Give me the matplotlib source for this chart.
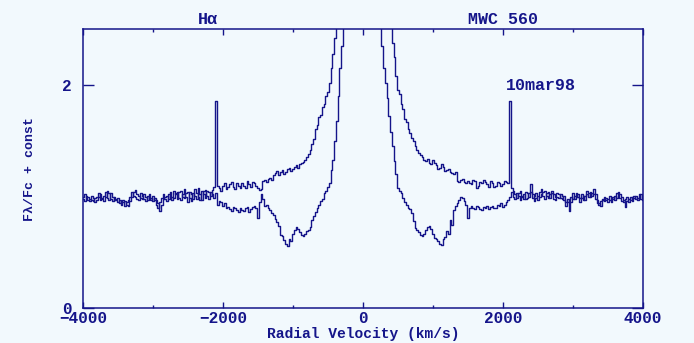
import numpy as np
import matplotlib
matplotlib.use("Agg")
import matplotlib.pyplot as plt

# velocity grid (km/s), one sample every 25 km/s
vel = np.arange(-4000, 4001, 25)

# spectrum with broad emission wings (10 samples per row = 250 km/s)
flux_wings = [
    1.00, 1.02, 0.99, 0.97, 0.96, 1.01, 0.99, 0.95, 0.97, 1.00,  # -4000
    1.02, 0.98, 0.96, 1.00, 1.05, 1.03, 0.98, 0.96, 1.00, 0.97,  # -3750
    0.95, 0.97, 0.93, 0.95, 0.96, 0.93, 0.92, 0.96, 1.00, 1.04,  # -3500
    1.06, 1.02, 1.01, 0.99, 0.98, 1.02, 1.00, 0.97, 1.02, 0.99,  # -3250
    0.96, 0.99, 0.97, 0.94, 0.87, 0.93, 0.98, 1.00, 1.01, 0.98,  # -3000
    1.04, 1.00, 0.99, 1.03, 1.04, 0.99, 0.97, 1.02, 1.07, 1.00,  # -2750
    0.95, 1.04, 1.02, 0.98, 1.07, 1.03, 1.00, 0.97, 1.05, 1.02,  # -2500
    0.99, 1.05, 1.04, 1.01, 1.06, 1.09, 1.86, 1.10, 1.08, 1.05,  # -2250
    1.10, 1.12, 1.07, 1.09, 1.11, 1.13, 1.09, 1.07, 1.12, 1.10,  # -2000
    1.08, 1.12, 1.10, 1.08, 1.14, 1.11, 1.09, 1.13, 1.12, 1.10,  # -1750
    1.08, 1.06, 1.07, 1.14, 1.15, 1.13, 1.16, 1.17, 1.15, 1.19,  # -1500
    1.21, 1.23, 1.19, 1.22, 1.24, 1.20, 1.22, 1.25, 1.26, 1.23,  # -1250
    1.25, 1.27, 1.28, 1.26, 1.29, 1.30, 1.31, 1.33, 1.36, 1.38,  # -1000
    1.42, 1.47, 1.52, 1.61, 1.64, 1.71, 1.73, 1.80, 1.83, 1.90,  # -750
    1.94, 2.02, 2.15, 2.28, 2.42, 2.62, 2.90, 3.15, 3.40, 3.70,  # -500
    4.00, 4.40, 4.80, 5.20, 5.50, 5.80, 6.00, 6.20, 6.30, 6.35,  # -250
    6.40, 6.30, 6.20, 5.90, 5.60, 5.30, 4.90, 4.50, 4.20, 3.90,  # 0
    3.60, 3.35, 3.10, 2.95, 2.80, 2.66, 2.52, 2.38, 2.25, 2.08,  # 250
    1.96, 1.92, 1.83, 1.79, 1.70, 1.67, 1.61, 1.57, 1.53, 1.50,  # 500
    1.45, 1.42, 1.39, 1.37, 1.36, 1.33, 1.32, 1.34, 1.30, 1.29,  # 750
    1.33, 1.30, 1.28, 1.25, 1.26, 1.29, 1.27, 1.23, 1.24, 1.25,  # 1000
    1.22, 1.21, 1.20, 1.22, 1.14, 1.13, 1.15, 1.16, 1.13, 1.12,  # 1250
    1.14, 1.12, 1.11, 1.15, 1.14, 1.08, 1.10, 1.13, 1.12, 1.15,  # 1500
    1.13, 1.11, 1.09, 1.14, 1.12, 1.09, 1.10, 1.13, 1.12, 1.10,  # 1750
    1.11, 1.14, 1.13, 1.12, 1.86, 1.08, 1.05, 1.02, 0.99, 1.03,  # 2000
    1.05, 1.01, 0.98, 1.04, 1.03, 1.00, 1.11, 1.02, 0.96, 0.99,  # 2250
    1.01, 1.04, 1.07, 1.01, 0.98, 1.03, 1.04, 0.99, 1.05, 1.02,  # 2500
    1.00, 1.03, 1.02, 0.99, 0.98, 1.01, 0.95, 0.98, 0.87, 0.95,  # 2750
    1.03, 0.98, 1.00, 1.02, 0.95, 0.99, 1.01, 0.97, 1.02, 1.00,  # 3000
    1.04, 1.01, 1.07, 1.02, 0.97, 0.94, 0.92, 0.97, 0.96, 0.99,  # 3250
    0.98, 1.01, 0.95, 0.98, 1.01, 0.99, 1.04, 1.02, 1.00, 0.97,  # 3500
    0.91, 0.96, 0.98, 1.00, 0.96, 0.99, 1.01, 0.97, 0.99, 1.02,  # 3750
    0.99,                                                        # 4000
]

# spectrum with absorption troughs
flux_troughs = [
    0.98, 0.96, 1.01, 1.00, 0.98, 0.97, 0.96, 0.99, 1.00, 1.03,  # -4000
    0.97, 0.99, 1.01, 1.04, 0.99, 0.97, 1.03, 1.00, 0.97, 0.98,  # -3750
    0.99, 0.94, 0.96, 0.97, 0.92, 0.95, 0.97, 1.00, 1.04, 1.01,  # -3500
    1.00, 0.98, 0.97, 1.03, 1.01, 0.98, 0.96, 1.01, 0.99, 0.97,  # -3250
    1.01, 0.97, 0.93, 0.90, 0.95, 0.99, 1.02, 0.98, 0.96, 1.02,  # -3000
    1.00, 0.97, 1.05, 1.02, 0.98, 1.04, 1.05, 1.00, 0.99, 1.03,  # -2750
    1.04, 0.99, 0.96, 1.03, 1.01, 0.98, 1.08, 1.02, 0.97, 1.05,  # -2500
    1.06, 1.01, 0.98, 1.04, 1.02, 0.99, 1.03, 0.93, 0.96, 0.95,  # -2250
    0.92, 0.94, 0.90, 0.91, 0.89, 0.87, 0.91, 0.90, 0.88, 0.86,  # -2000
    0.90, 0.88, 0.87, 0.90, 0.91, 0.86, 0.89, 0.91, 0.92, 0.90,  # -1750
    0.81, 0.95, 1.02, 0.98, 0.92, 0.93, 0.90, 0.88, 0.85, 0.84,  # -1500
    0.80, 0.77, 0.74, 0.66, 0.65, 0.61, 0.58, 0.56, 0.62, 0.60,  # -1250
    0.67, 0.70, 0.73, 0.71, 0.68, 0.66, 0.65, 0.67, 0.69, 0.70,  # -1000
    0.73, 0.79, 0.83, 0.86, 0.90, 0.93, 0.96, 0.98, 1.03, 1.05,  # -750
    1.09, 1.12, 1.24, 1.33, 1.50, 1.68, 1.90, 2.15, 2.35, 2.62,  # -500
    2.90, 3.20, 3.60, 3.90, 4.30, 4.60, 4.90, 5.10, 5.30, 5.35,  # -250
    5.40, 5.20, 5.00, 4.70, 4.40, 4.00, 3.70, 3.40, 3.10, 2.80,  # 0
    2.58, 2.35, 2.15, 2.02, 1.88, 1.72, 1.58, 1.45, 1.32, 1.20,  # 250
    1.08, 1.05, 1.03, 0.99, 0.95, 0.93, 0.90, 0.89, 0.85, 0.78,  # 500
    0.72, 0.70, 0.68, 0.66, 0.65, 0.67, 0.70, 0.73, 0.74, 0.71,  # 750
    0.67, 0.63, 0.62, 0.60, 0.58, 0.57, 0.62, 0.64, 0.69, 0.67,  # 1000
    0.79, 0.75, 0.88, 0.92, 0.94, 0.97, 1.00, 0.99, 0.96, 0.93,  # 1250
    0.81, 0.90, 0.92, 0.90, 0.89, 0.92, 0.91, 0.89, 0.88, 0.91,  # 1500
    0.90, 0.92, 0.89, 0.91, 0.92, 0.90, 0.90, 0.93, 0.92, 0.94,  # 1750
    0.91, 0.93, 0.95, 0.97, 1.00, 1.04, 1.00, 0.98, 1.03, 1.01,  # 2000
    0.97, 1.00, 1.02, 0.98, 0.99, 1.03, 1.04, 0.99, 1.01, 1.03,  # 2250
    0.97, 1.00, 1.02, 1.04, 1.05, 1.01, 0.99, 1.02, 1.03, 0.98,  # 2500
    0.97, 1.00, 0.99, 1.02, 1.01, 0.97, 0.92, 0.95, 0.96, 1.00,  # 2750
    0.98, 1.01, 1.03, 1.00, 0.99, 1.02, 0.97, 1.01, 1.05, 1.03,  # 3000
    1.00, 1.03, 1.02, 0.98, 0.94, 0.93, 0.96, 0.98, 1.00, 0.97,  # 3250
    0.95, 0.97, 0.98, 1.00, 0.97, 1.03, 1.02, 0.99, 0.96, 0.95,  # 3500
    0.98, 1.00, 0.95, 0.97, 1.00, 1.01, 0.98, 0.99, 1.02, 0.98,  # 3750
    0.97,                                                        # 4000
]

x_major = [-4000, -2000, 0, 2000, 4000]
y_major = [0, 2]

bg = "#f2f9fd"
ink = "#15158a"
W, H = 694, 343

plt.rcParams["font.family"] = ["Liberation Mono", "DejaVu Sans Mono"]
plt.rcParams["font.weight"] = "bold"

fig = plt.figure(figsize=(W / 100, H / 100), dpi=100, facecolor=bg)
ax = fig.add_axes([83 / W, 1 - 308.3 / H, 560 / W, 279 / H], facecolor=bg)

ax.plot(vel, flux_wings, color=ink, lw=1.0, drawstyle="steps-mid")
ax.plot(vel, flux_troughs, color=ink, lw=1.0, drawstyle="steps-mid")

ax.set_xlim(-4000, 4000)
ax.set_ylim(0, 2.5)
ax.set_xticks(x_major)
ax.set_xticks(np.arange(-4000, 4001, 1000), minor=True)
ax.set_yticks(y_major)

for s in ax.spines.values():
    s.set_color(ink)
    s.set_linewidth(1.1)

ax.tick_params(axis="both", which="both", direction="in", top=True, right=True,
               colors=ink, labelsize=11.5, width=1.0)
ax.tick_params(axis="x", which="major", length=4.5, pad=2)
ax.tick_params(axis="x", which="minor", length=2.5)
ax.tick_params(axis="y", which="major", length=8, pad=8)

ax.set_xlabel("Radial Velocity (km/s)", color=ink, fontsize=10.5,
              fontweight="bold", labelpad=1)
ax.set_ylabel("F\u03bb/Fc + const", color=ink, fontsize=9.5,
              fontweight="bold", labelpad=19)


def put(text, x, y, size=12):
    fig.text(x / W, 1 - y / H, text, color=ink, fontsize=size,
             ha="center", va="center")


put("H\u03b1", 208, 20)
put("MWC 560", 503, 20)
put("10mar98", 541, 86)

fig.savefig("out.png", dpi=100, facecolor=bg)
